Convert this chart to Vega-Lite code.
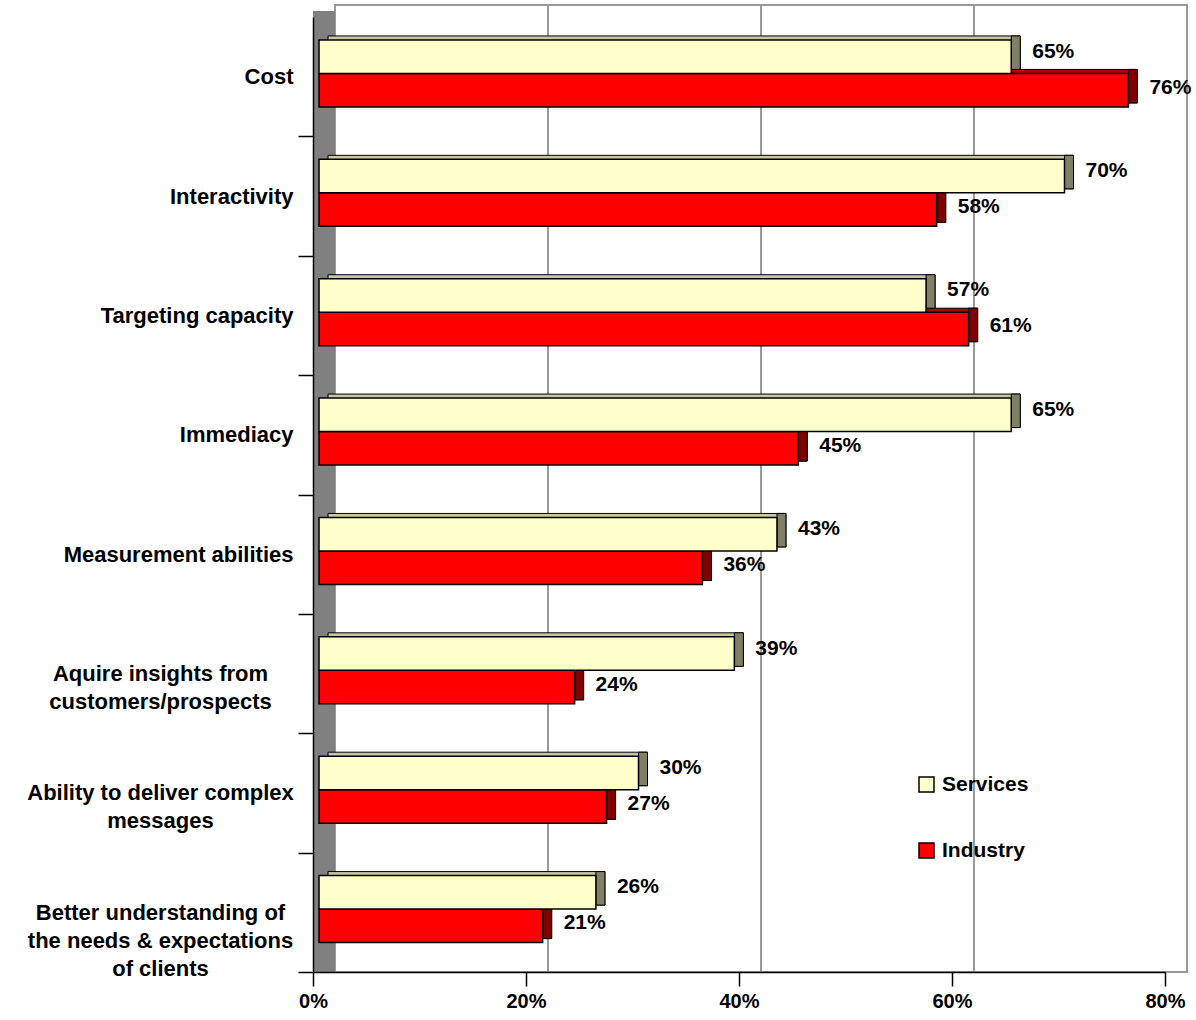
{
  "$schema": "https://vega.github.io/schema/vega-lite/v6.json",
  "width": 852,
  "height": 955,
  "autosize": {"type": "none"},
  "padding": {"left": 313, "top": 17, "right": 31, "bottom": 48},
  "background": "white",
  "config": {"view": {"stroke": null}, "font": "Liberation Sans"},
  "datasets": {
    "survey": [
      {"category": "Cost", "series": "Services", "value": 0.65},
      {"category": "Cost", "series": "Industry", "value": 0.76},
      {"category": "Interactivity", "series": "Services", "value": 0.70},
      {"category": "Interactivity", "series": "Industry", "value": 0.58},
      {"category": "Targeting capacity", "series": "Services", "value": 0.57},
      {"category": "Targeting capacity", "series": "Industry", "value": 0.61},
      {"category": "Immediacy", "series": "Services", "value": 0.65},
      {"category": "Immediacy", "series": "Industry", "value": 0.45},
      {"category": "Measurement abilities", "series": "Services", "value": 0.43},
      {"category": "Measurement abilities", "series": "Industry", "value": 0.36},
      {"category": "Aquire insights from customers/prospects", "series": "Services", "value": 0.39},
      {"category": "Aquire insights from customers/prospects", "series": "Industry", "value": 0.24},
      {"category": "Ability to deliver complex messages", "series": "Services", "value": 0.30},
      {"category": "Ability to deliver complex messages", "series": "Industry", "value": 0.27},
      {"category": "Better understanding of the needs & expectations of clients", "series": "Services", "value": 0.26},
      {"category": "Better understanding of the needs & expectations of clients", "series": "Industry", "value": 0.21}
    ],
    "grid": [{"g": 0.2}, {"g": 0.4}, {"g": 0.6}],
    "frame": [{"id": 1}]
  },
  "layer": [
    {
      "data": {"name": "frame"},
      "mark": {"type": "rect", "fill": "transparent", "stroke": "#999999", "strokeWidth": 2, "xOffset": 22, "x2Offset": 22, "yOffset": -12, "y2Offset": -12},
      "encoding": {
        "x": {"datum": 0, "type": "quantitative"},
        "x2": {"datum": 0.8}
      }
    },
    {
      "data": {"name": "grid"},
      "mark": {"type": "rule", "stroke": "#999999", "strokeWidth": 2, "xOffset": 22, "yOffset": -12, "y2Offset": -12},
      "encoding": {"x": {"field": "g", "type": "quantitative", "title": null}}
    },
    {
      "data": {"name": "frame"},
      "mark": {"type": "rect", "fill": "#808080", "x2Offset": 22, "yOffset": -6, "y2Offset": -6},
      "encoding": {"x": {"datum": 0, "type": "quantitative"}, "x2": {"datum": 0}}
    },
    {
      "data": {"name": "survey"},
      "transform": [{"filter": "datum.series == 'Industry'"}],
      "mark": {"type": "bar", "height": 33.5, "yOffset": 9.5, "xOffset": 15, "x2Offset": 10, "fill": "#B00000", "stroke": "black", "strokeWidth": 1},
      "encoding": {
        "x": {"field": "value", "type": "quantitative", "title": null},
        "y": {"field": "category", "type": "nominal", "title": null, "sort": null}
      }
    },
    {
      "data": {"name": "survey"},
      "transform": [{"filter": "datum.series == 'Services'"}],
      "mark": {"type": "bar", "height": 33.5, "yOffset": -24, "xOffset": 15, "x2Offset": 10, "fill": "#C8C8A0", "stroke": "black", "strokeWidth": 1},
      "encoding": {
        "x": {"field": "value", "type": "quantitative", "title": null},
        "y": {"field": "category", "type": "nominal", "title": null, "sort": null}
      }
    },
    {
      "data": {"name": "survey"},
      "transform": [{"filter": "datum.series == 'Industry'"}],
      "mark": {"type": "bar", "height": 33.5, "yOffset": 9.5, "xOffset": 15, "x2Offset": 6, "fill": "#800000", "stroke": "black", "strokeWidth": 1},
      "encoding": {
        "x": {"field": "value", "type": "quantitative", "title": null},
        "x2": {"field": "value"},
        "y": {"field": "category", "type": "nominal", "title": null, "sort": null}
      }
    },
    {
      "data": {"name": "survey"},
      "transform": [{"filter": "datum.series == 'Services'"}],
      "mark": {"type": "bar", "height": 33.5, "yOffset": -24, "xOffset": 15, "x2Offset": 6, "fill": "#808066", "stroke": "black", "strokeWidth": 1},
      "encoding": {
        "x": {"field": "value", "type": "quantitative", "title": null},
        "x2": {"field": "value"},
        "y": {"field": "category", "type": "nominal", "title": null, "sort": null}
      }
    },
    {
      "data": {"name": "survey"},
      "transform": [{"filter": "datum.series == 'Industry'"}],
      "mark": {"type": "bar", "height": 33.5, "yOffset": 13.5, "xOffset": 6, "x2Offset": 6, "stroke": "black", "strokeWidth": 1.5},
      "encoding": {
        "x": {
          "field": "value", "type": "quantitative",
          "scale": {"domain": [0, 0.8], "nice": false, "zero": true},
          "axis": {
            "title": null, "values": [0, 0.2, 0.4, 0.6, 0.8], "format": ".0%", "grid": false, "zindex": 1, "labelFlush": false,
            "tickSize": 14, "tickColor": "black", "domainColor": "black", "tickWidth": 1.5, "domainWidth": 1.5,
            "labelFontSize": 20, "labelFontWeight": "bold", "labelColor": "black", "labelFont": "Liberation Sans", "labelPadding": 5
          }
        },
        "y": {
          "field": "category", "type": "nominal", "title": null, "sort": null,
          "scale": {"paddingInner": 0.44, "paddingOuter": 0.22},
          "axis": {
            "title": null, "tickOffset": 59.7, "labelOffset": -59.7, "tickSize": 15, "tickColor": "black", "tickWidth": 1.5, "zindex": 1,
            "domainColor": "black", "domainWidth": 1.5,
            "labelFontSize": 22, "labelFontWeight": "bold", "labelColor": "black", "labelFont": "Liberation Sans",
            "labelLimit": 400, "labelLineHeight": 28, "labelBaseline": "middle",
            "labelAlign": {"condition": {"test": "length(datum.value) > 25", "value": "center"}, "value": "right"},
            "labelPadding": {"condition": {"test": "length(datum.value) > 25", "value": 138}, "value": 5},
            "labelExpr": "datum.label == 'Aquire insights from customers/prospects' ? ['Aquire insights from', 'customers/prospects'] : datum.label == 'Ability to deliver complex messages' ? ['Ability to deliver complex', 'messages'] : datum.label == 'Better understanding of the needs & expectations of clients' ? ['Better understanding of', 'the needs & expectations', 'of clients'] : datum.label"
          }
        },
        "color": {
          "field": "series", "type": "nominal",
          "scale": {"domain": ["Services", "Industry"], "range": ["#FFFFCC", "#FF0000"]},
          "legend": {
            "title": null, "orient": "none", "legendX": 603, "legendY": 757, "direction": "vertical",
            "symbolType": "square", "symbolSize": 225, "symbolStrokeColor": "black", "symbolStrokeWidth": 1.5,
            "labelFontSize": 21, "labelFontWeight": "bold", "labelFont": "Liberation Sans", "labelColor": "black",
            "rowPadding": 44, "padding": 0, "labelOffset": 5
          }
        }
      }
    },
    {
      "data": {"name": "survey"},
      "transform": [{"filter": "datum.series == 'Services'"}],
      "mark": {"type": "bar", "height": 33.5, "yOffset": -20, "xOffset": 6, "x2Offset": 6, "stroke": "black", "strokeWidth": 1.5},
      "encoding": {
        "x": {"field": "value", "type": "quantitative", "title": null},
        "y": {"field": "category", "type": "nominal", "title": null, "sort": null},
        "color": {"field": "series", "type": "nominal"}
      }
    },
    {
      "data": {"name": "survey"},
      "transform": [{"filter": "datum.series == 'Services'"}],
      "mark": {"type": "text", "align": "left", "baseline": "middle", "xOffset": 27, "yOffset": -25, "fontSize": 21, "fontWeight": "bold", "font": "Liberation Sans", "color": "black"},
      "encoding": {
        "x": {"field": "value", "type": "quantitative", "title": null},
        "y": {"field": "category", "type": "nominal", "title": null, "sort": null},
        "text": {"field": "value", "type": "quantitative", "format": ".0%"}
      }
    },
    {
      "data": {"name": "survey"},
      "transform": [{"filter": "datum.series == 'Industry'"}],
      "mark": {"type": "text", "align": "left", "baseline": "middle", "xOffset": 27, "yOffset": 11, "fontSize": 21, "fontWeight": "bold", "font": "Liberation Sans", "color": "black"},
      "encoding": {
        "x": {"field": "value", "type": "quantitative", "title": null},
        "y": {"field": "category", "type": "nominal", "title": null, "sort": null},
        "text": {"field": "value", "type": "quantitative", "format": ".0%"}
      }
    }
  ]
}
